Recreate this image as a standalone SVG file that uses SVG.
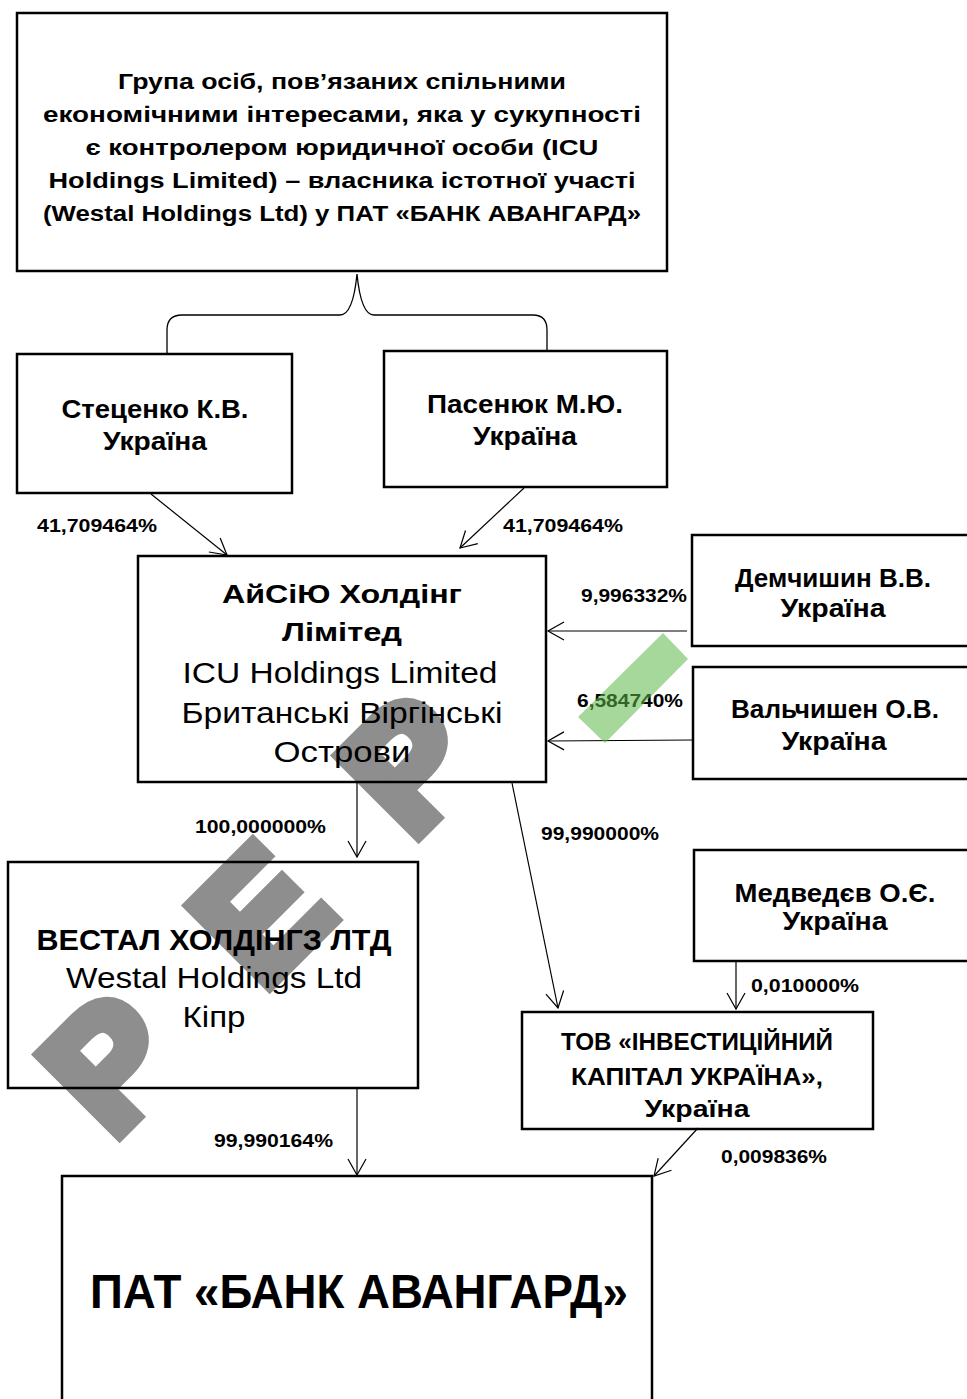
<svg xmlns="http://www.w3.org/2000/svg" width="967" height="1399" viewBox="0 0 967 1399">
<defs>
<marker id="arr" markerUnits="userSpaceOnUse" markerWidth="20" markerHeight="22" viewBox="-18 -11 20 22" refX="0" refY="0" orient="auto">
<path d="M -16 -9 L 0 0 L -16 9" fill="none" stroke="#000" stroke-width="1.2"/>
</marker>
<style>
.box{fill:none;stroke:#000;stroke-width:2.5}
.t{font-family:'Liberation Sans',Arial,sans-serif;fill:#000;text-anchor:middle;font-weight:bold}
.r{font-weight:normal}
.p{font-family:'Liberation Sans',Arial,sans-serif;fill:#000;font-weight:bold;font-size:18px}
.c{fill:none;stroke:#000;stroke-width:1.2;marker-end:url(#arr)}
.wm{font-family:'Liberation Sans',Arial,sans-serif;font-weight:bold;font-size:162px;fill:#8e8e8e;stroke:#8e8e8e;stroke-width:14;stroke-linejoin:miter}
</style>
</defs>
<rect x="0" y="0" width="967" height="1399" fill="#fff"/>
<g id="watermark">
<text class="wm" transform="translate(112,1141) rotate(-45)">Р</text>
<text class="wm" transform="translate(262,992) rotate(-45)">Е</text>
<text class="wm" transform="translate(411,842) rotate(-45)">Р</text>
</g>
<g id="connectors">
<path d="M 167 355 L 167 330 Q 167 315 182 315 L 340 315 Q 353 315 357 274 Q 361 315 374 315 L 533 315 Q 547 315 547 330 L 547 352" fill="none" stroke="#000" stroke-width="1.3"/>
<line class="c" x1="151" y1="494" x2="227" y2="555"/>
<line class="c" x1="524" y1="488" x2="460" y2="548"/>
<line class="c" x1="687" y1="631" x2="548" y2="631"/>
<line class="c" x1="693" y1="740" x2="548" y2="741"/>
<line class="c" x1="357" y1="783" x2="357" y2="857"/>
<line class="c" x1="512" y1="783" x2="558" y2="1008"/>
<line class="c" x1="736" y1="962" x2="736" y2="1009"/>
<line class="c" x1="357" y1="1089" x2="357" y2="1175"/>
<line class="c" x1="698" y1="1128" x2="654" y2="1176"/>
<g id="labels">
<text class="p" x="37" y="532" textLength="120" lengthAdjust="spacingAndGlyphs">41,709464%</text>
<text class="p" x="503" y="532" textLength="120" lengthAdjust="spacingAndGlyphs">41,709464%</text>
<text class="p" x="581" y="602" textLength="106" lengthAdjust="spacingAndGlyphs">9,996332%</text>
<text class="p" x="577" y="707" textLength="106" lengthAdjust="spacingAndGlyphs">6,584740%</text>
<text class="p" x="195" y="833" textLength="131" lengthAdjust="spacingAndGlyphs">100,000000%</text>
<text class="p" x="541" y="840" textLength="118" lengthAdjust="spacingAndGlyphs">99,990000%</text>
<text class="p" x="751" y="992" textLength="108" lengthAdjust="spacingAndGlyphs">0,010000%</text>
<text class="p" x="214" y="1147" textLength="119" lengthAdjust="spacingAndGlyphs">99,990164%</text>
<text class="p" x="721" y="1163" textLength="106" lengthAdjust="spacingAndGlyphs">0,009836%</text>
</g>
</g>
<g id="group">
<rect class="box" x="17" y="13" width="650" height="258"/>
<text class="t" font-size="22.5" x="342" y="89" textLength="448" lengthAdjust="spacingAndGlyphs">Група осіб, пов’язаних спільними</text>
<text class="t" font-size="22.5" x="342" y="122" textLength="598" lengthAdjust="spacingAndGlyphs">економічними інтересами, яка у сукупності</text>
<text class="t" font-size="22.5" x="342" y="155" textLength="513" lengthAdjust="spacingAndGlyphs">є контролером юридичної особи (ICU</text>
<text class="t" font-size="22.5" x="342" y="188" textLength="587" lengthAdjust="spacingAndGlyphs">Holdings Limited) – власника істотної участі</text>
<text class="t" font-size="22.5" x="342" y="221" textLength="598" lengthAdjust="spacingAndGlyphs">(Westal Holdings Ltd) у ПАТ «БАНК АВАНГАРД»</text>
</g>
<g id="stetsenko">
<rect class="box" x="17" y="354" width="275" height="139"/>
<text class="t" font-size="25" x="155" y="418" textLength="187" lengthAdjust="spacingAndGlyphs">Стеценко К.В.</text>
<text class="t" font-size="25" x="155" y="450" textLength="104" lengthAdjust="spacingAndGlyphs">Україна</text>
</g>
<g id="pasenyuk">
<rect class="box" x="384" y="351" width="283" height="136"/>
<text class="t" font-size="25" x="525" y="413" textLength="196" lengthAdjust="spacingAndGlyphs">Пасенюк М.Ю.</text>
<text class="t" font-size="25" x="525" y="445" textLength="104" lengthAdjust="spacingAndGlyphs">Україна</text>
</g>
<g id="icu">
<rect class="box" x="138" y="556" width="408" height="226"/>
<text class="t" font-size="26" x="342" y="603" textLength="240" lengthAdjust="spacingAndGlyphs">АйСіЮ Холдінг</text>
<text class="t" font-size="26" x="342" y="641" textLength="120" lengthAdjust="spacingAndGlyphs">Лімітед</text>
<text class="t r" font-size="29" x="340" y="683" textLength="315" lengthAdjust="spacingAndGlyphs">ICU Holdings Limited</text>
<text class="t r" font-size="29" x="342" y="723" textLength="321" lengthAdjust="spacingAndGlyphs">Британські Віргінські</text>
<text class="t r" font-size="29" x="342" y="762" textLength="137" lengthAdjust="spacingAndGlyphs">Острови</text>
</g>
<g id="demchyshyn">
<rect class="box" x="692" y="535" width="290" height="111"/>
<text class="t" font-size="25" x="833" y="587" textLength="196" lengthAdjust="spacingAndGlyphs">Демчишин В.В.</text>
<text class="t" font-size="25" x="833" y="617" textLength="105" lengthAdjust="spacingAndGlyphs">Україна</text>
</g>
<g id="valchyshen">
<rect class="box" x="693" y="667" width="290" height="112"/>
<text class="t" font-size="25" x="835" y="718" textLength="208" lengthAdjust="spacingAndGlyphs">Вальчишен О.В.</text>
<text class="t" font-size="25" x="834" y="750" textLength="105" lengthAdjust="spacingAndGlyphs">Україна</text>
</g>
<g id="medvedev">
<rect class="box" x="694" y="850" width="290" height="111"/>
<text class="t" font-size="25" x="835" y="902" textLength="201" lengthAdjust="spacingAndGlyphs">Медведєв О.Є.</text>
<text class="t" font-size="25" x="835" y="930" textLength="105" lengthAdjust="spacingAndGlyphs">Україна</text>
</g>
<g id="westal">
<rect class="box" x="8" y="862" width="410" height="226"/>
<text class="t" font-size="30" x="214" y="950" textLength="355" lengthAdjust="spacingAndGlyphs">ВЕСТАЛ ХОЛДІНГЗ ЛТД</text>
<text class="t r" font-size="30" x="214" y="988" textLength="296" lengthAdjust="spacingAndGlyphs">Westal Holdings Ltd</text>
<text class="t r" font-size="30" x="214" y="1027" textLength="63" lengthAdjust="spacingAndGlyphs">Кіпр</text>
</g>
<g id="ikua">
<rect class="box" x="522" y="1012" width="351" height="117"/>
<text class="t" font-size="24" x="697" y="1050" textLength="272" lengthAdjust="spacingAndGlyphs">ТОВ «ІНВЕСТИЦІЙНИЙ</text>
<text class="t" font-size="24" x="697" y="1085" textLength="252" lengthAdjust="spacingAndGlyphs">КАПІТАЛ УКРАЇНА»,</text>
<text class="t" font-size="24" x="697" y="1117" textLength="105" lengthAdjust="spacingAndGlyphs">Україна</text>
</g>
<g id="bank">
<rect class="box" x="62" y="1176" width="590" height="240"/>
<text class="t" font-size="48" x="359" y="1308" textLength="538" lengthAdjust="spacingAndGlyphs">ПАТ «БАНК АВАНГАРД»</text>
</g>
<polygon id="stripe" points="663,633 688,659 605,743 578,717" fill="#5cb848" fill-opacity="0.55"/>
</svg>
